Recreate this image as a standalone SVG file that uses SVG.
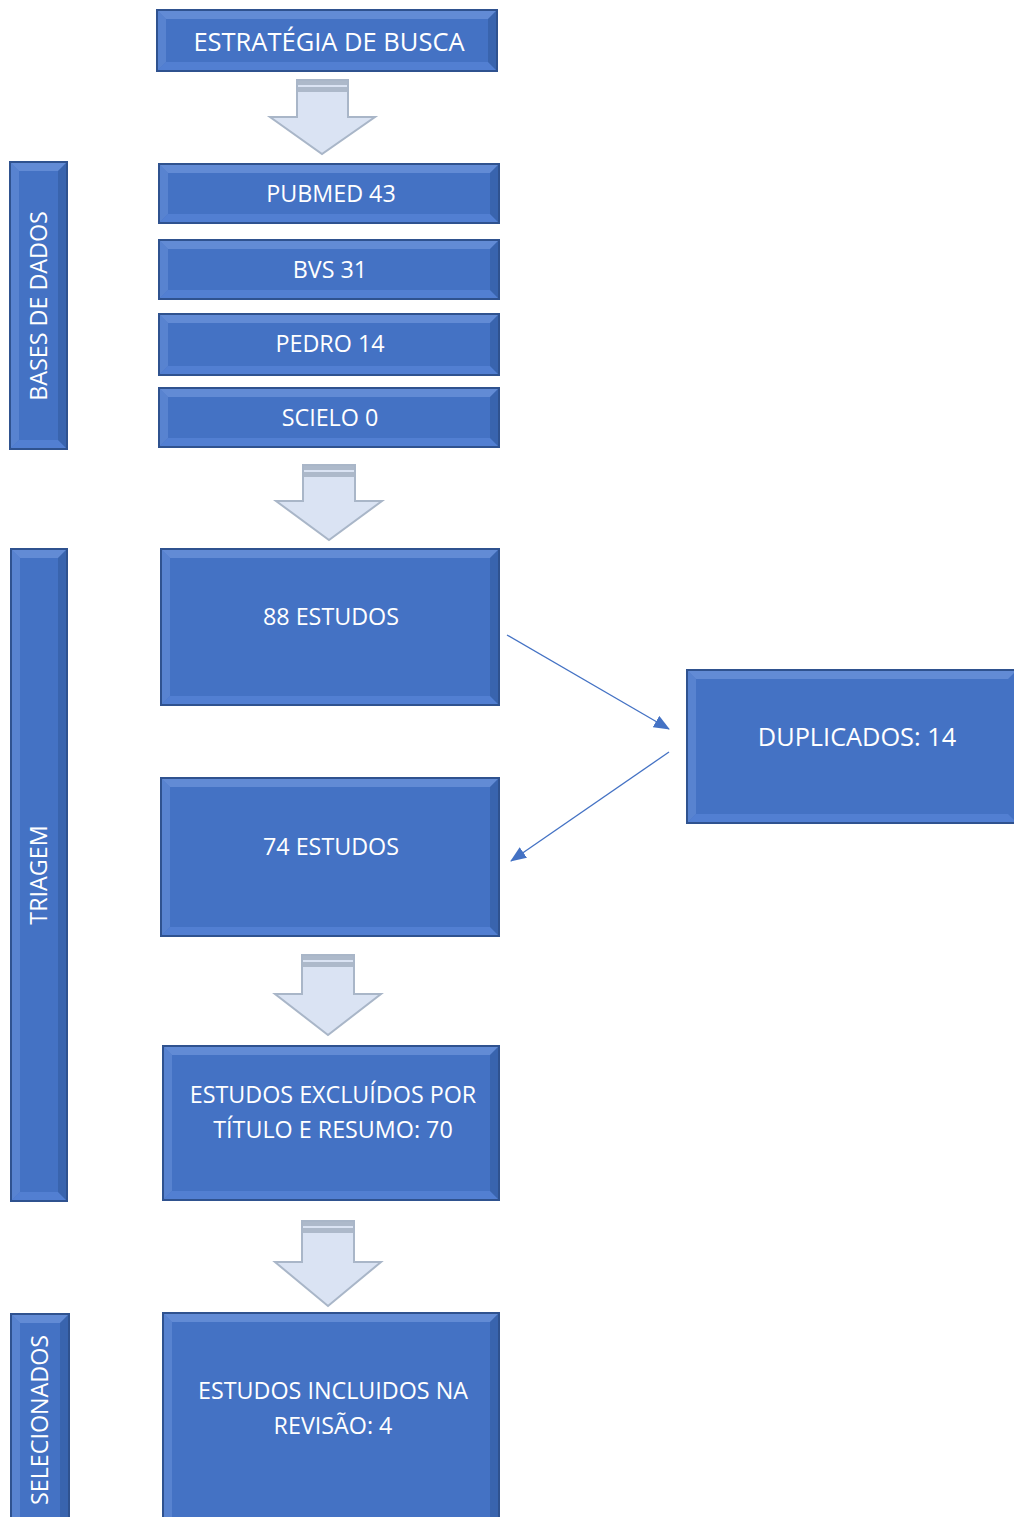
<svg xmlns="http://www.w3.org/2000/svg" width="1014" height="1517" viewBox="0 0 1014 1517">
<style>
.box{fill:#4472C4;stroke:#2F528F;stroke-width:2}
.bt{fill:#7FA3E6;opacity:0.5}
.bl{fill:#6C93DC;opacity:0.5}
.bb{fill:#5A86DA;opacity:0.65}
.br{fill:#2B4F8E;opacity:0.4}
.t{font-family:"Open Sans","Liberation Sans",sans-serif;fill:#FFFFFF;text-anchor:middle;font-size:23.3px}
.arr{fill:#DAE3F3;stroke:#A9B6C8;stroke-width:2}
.band{fill:#ADB9CA}
.con{stroke:#4472C4;stroke-width:1.3;fill:none}
</style>
<defs>
<marker id="ah" markerWidth="16" markerHeight="13" refX="15" refY="6.5" orient="auto" markerUnits="userSpaceOnUse">
<path d="M0,0 L16,6.5 L0,13 z" fill="#4472C4"/>
</marker>
</defs>

<g id="estrategia">
<rect class="box" x="157" y="10" width="340" height="61"/>
<polygon class="bt" points="158,11 496,11 488,19 166,19"/>
<polygon class="bl" points="158,11 166,19 166,62 158,70"/>
<polygon class="bb" points="158,70 166,62 488,62 496,70"/>
<polygon class="br" points="496,11 496,70 488,62 488,19"/>
<text class="t" x="329" y="51" style="font-size:25.5px">ESTRATÉGIA DE BUSCA</text>
</g>

<g id="arrow1">
<polygon class="arr" points="297,80 348,80 348,117 375,117 322,154 270,117 297,117"/>
<rect class="band" x="298" y="81" width="49" height="4"/>
<rect class="band" x="298" y="87" width="49" height="5"/>
</g>

<g id="bases">
<rect class="box" x="10" y="162" width="57" height="287"/>
<polygon class="bt" points="11,163 66,163 58,171 19,171"/>
<polygon class="bl" points="11,163 19,171 19,440 11,448"/>
<polygon class="bb" points="11,448 19,440 58,440 66,448"/>
<polygon class="br" points="66,163 66,448 58,440 58,171"/>
<text class="t" transform="translate(47,306) rotate(-90)">BASES DE DADOS</text>
</g>

<g id="pubmed">
<rect class="box" x="159" y="164" width="340" height="59"/>
<polygon class="bt" points="160,165 498,165 490,173 168,173"/>
<polygon class="bl" points="160,165 168,173 168,214 160,222"/>
<polygon class="bb" points="160,222 168,214 490,214 498,222"/>
<polygon class="br" points="498,165 498,222 490,214 490,173"/>
<text class="t" x="331" y="202">PUBMED 43</text>
</g>

<g id="bvs">
<rect class="box" x="159" y="240" width="340" height="59"/>
<polygon class="bt" points="160,241 498,241 490,249 168,249"/>
<polygon class="bl" points="160,241 168,249 168,290 160,298"/>
<polygon class="bb" points="160,298 168,290 490,290 498,298"/>
<polygon class="br" points="498,241 498,298 490,290 490,249"/>
<text class="t" x="330" y="278">BVS 31</text>
</g>

<g id="pedro">
<rect class="box" x="159" y="314" width="340" height="61"/>
<polygon class="bt" points="160,315 498,315 490,323 168,323"/>
<polygon class="bl" points="160,315 168,323 168,366 160,374"/>
<polygon class="bb" points="160,374 168,366 490,366 498,374"/>
<polygon class="br" points="498,315 498,374 490,366 490,323"/>
<text class="t" x="330" y="352">PEDRO 14</text>
</g>

<g id="scielo">
<rect class="box" x="159" y="388" width="340" height="59"/>
<polygon class="bt" points="160,389 498,389 490,397 168,397"/>
<polygon class="bl" points="160,389 168,397 168,438 160,446"/>
<polygon class="bb" points="160,446 168,438 490,438 498,446"/>
<polygon class="br" points="498,389 498,446 490,438 490,397"/>
<text class="t" x="330" y="426">SCIELO 0</text>
</g>

<g id="arrow2">
<polygon class="arr" points="303,465 355,465 355,501 382,501 329,540 276,501 303,501"/>
<rect class="band" x="304" y="466" width="50" height="4"/>
<rect class="band" x="304" y="472" width="50" height="5"/>
</g>

<g id="triagem">
<rect class="box" x="11" y="549" width="56" height="652"/>
<polygon class="bt" points="12,550 66,550 58,558 20,558"/>
<polygon class="bl" points="12,550 20,558 20,1192 12,1200"/>
<polygon class="bb" points="12,1200 20,1192 58,1192 66,1200"/>
<polygon class="br" points="66,550 66,1200 58,1192 58,558"/>
<text class="t" transform="translate(47,875) rotate(-90)">TRIAGEM</text>
</g>

<g id="estudos88">
<rect class="box" x="161" y="549" width="338" height="156"/>
<polygon class="bt" points="162,550 498,550 490,558 170,558"/>
<polygon class="bl" points="162,550 170,558 170,696 162,704"/>
<polygon class="bb" points="162,704 170,696 490,696 498,704"/>
<polygon class="br" points="498,550 498,704 490,696 490,558"/>
<text class="t" x="331" y="625">88 ESTUDOS</text>
</g>

<g id="duplicados">
<rect class="box" x="687" y="670" width="330" height="153"/>
<polygon class="bt" points="688,671 1016,671 1008,679 696,679"/>
<polygon class="bl" points="688,671 696,679 696,814 688,822"/>
<polygon class="bb" points="688,822 696,814 1008,814 1016,822"/>
<text class="t" x="857" y="746" style="font-size:25.3px">DUPLICADOS: 14</text>
</g>

<g id="estudos74">
<rect class="box" x="161" y="778" width="338" height="158"/>
<polygon class="bt" points="162,779 498,779 490,787 170,787"/>
<polygon class="bl" points="162,779 170,787 170,927 162,935"/>
<polygon class="bb" points="162,935 170,927 490,927 498,935"/>
<polygon class="br" points="498,779 498,935 490,927 490,787"/>
<text class="t" x="331" y="855">74 ESTUDOS</text>
</g>

<g id="arrow3">
<polygon class="arr" points="302,955 354,955 354,994 381,994 328,1035 275,994 302,994"/>
<rect class="band" x="303" y="956" width="50" height="4"/>
<rect class="band" x="303" y="962" width="50" height="5"/>
</g>

<g id="excluidos">
<rect class="box" x="163" y="1046" width="336" height="154"/>
<polygon class="bt" points="164,1047 498,1047 490,1055 172,1055"/>
<polygon class="bl" points="164,1047 172,1055 172,1191 164,1199"/>
<polygon class="bb" points="164,1199 172,1191 490,1191 498,1199"/>
<polygon class="br" points="498,1047 498,1199 490,1191 490,1055"/>
<text class="t" x="333" y="1103">ESTUDOS EXCLUÍDOS POR</text>
<text class="t" x="333" y="1138">TÍTULO E RESUMO: 70</text>
</g>

<g id="arrow4">
<polygon class="arr" points="302,1221 354,1221 354,1262 381,1262 328,1306 275,1262 302,1262"/>
<rect class="band" x="303" y="1222" width="50" height="4"/>
<rect class="band" x="303" y="1228" width="50" height="5"/>
</g>

<g id="selecionados">
<rect class="box" x="11" y="1314" width="58" height="210"/>
<polygon class="bt" points="12,1315 68,1315 60,1323 20,1323"/>
<polygon class="bl" points="12,1315 20,1323 20,1520 12,1520"/>
<polygon class="br" points="68,1315 68,1520 60,1520 60,1323"/>
<text class="t" transform="translate(48,1420) rotate(-90)">SELECIONADOS</text>
</g>

<g id="incluidos">
<rect class="box" x="163" y="1313" width="336" height="210"/>
<polygon class="bt" points="164,1314 498,1314 490,1322 172,1322"/>
<polygon class="bl" points="164,1314 172,1322 172,1520 164,1520"/>
<polygon class="br" points="498,1314 498,1520 490,1520 490,1322"/>
<text class="t" x="333" y="1399">ESTUDOS INCLUIDOS NA</text>
<text class="t" x="333" y="1434">REVISÃO: 4</text>
</g>

<g id="connectors">
<line class="con" x1="507" y1="635" x2="669" y2="729" marker-end="url(#ah)"/>
<line class="con" x1="669" y1="752" x2="511" y2="861" marker-end="url(#ah)"/>
</g>
</svg>
